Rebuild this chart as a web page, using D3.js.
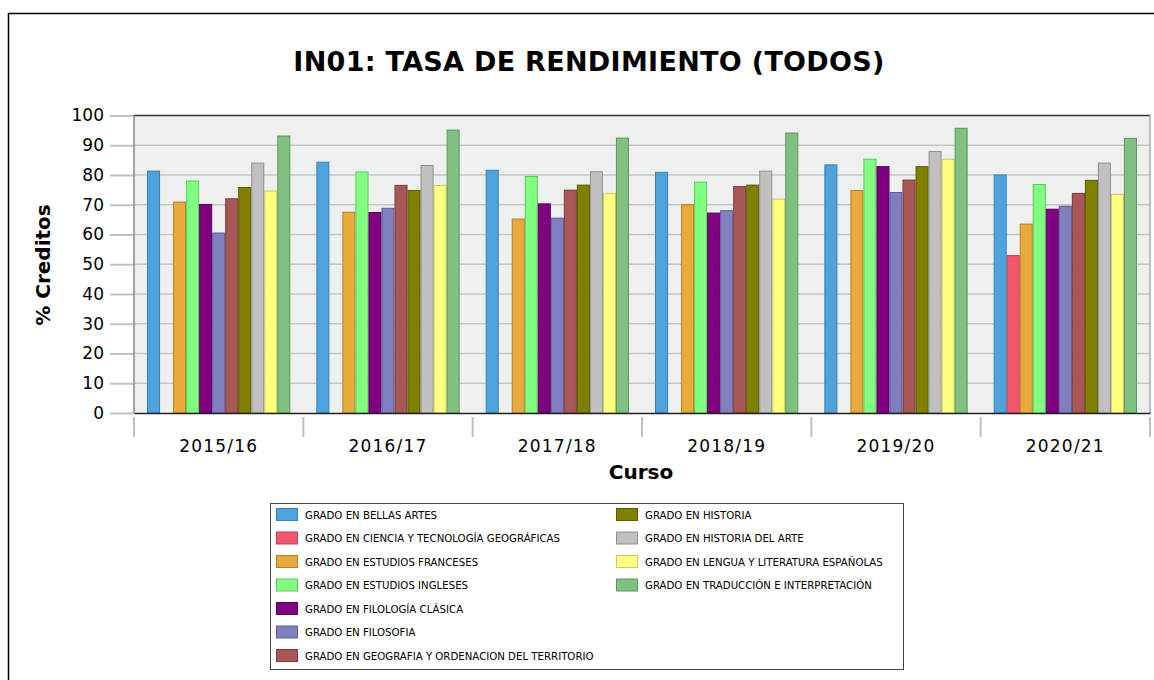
<!DOCTYPE html>
<html>
<head>
<meta charset="utf-8">
<script src="https://cdn.jsdelivr.net/npm/d3@7"></script>
<style>
  body { margin: 0; background: #fff; }
  svg text { font-family: "DejaVu Sans", sans-serif; }
</style>
</head>
<body>
<div id="chart"></div>
<script>
// Courses on the x axis
const cursos = ["2015/16", "2016/17", "2017/18", "2018/19", "2019/20", "2020/21"];

// Degree names (series)
const grados = [
  "GRADO EN BELLAS ARTES",
  "GRADO EN CIENCIA Y TECNOLOGÍA GEOGRÁFICAS",
  "GRADO EN ESTUDIOS FRANCESES",
  "GRADO EN ESTUDIOS INGLESES",
  "GRADO EN FILOLOGÍA CLÁSICA",
  "GRADO EN FILOSOFIA",
  "GRADO EN GEOGRAFIA Y ORDENACION DEL TERRITORIO",
  "GRADO EN HISTORIA",
  "GRADO EN HISTORIA DEL ARTE",
  "GRADO EN LENGUA Y LITERATURA ESPAÑOLAS",
  "GRADO EN TRADUCCIÓN E INTERPRETACIÓN"
];

const colores = ["#4fa3dc", "#f0566e", "#e8aa3c", "#80ff80", "#800080", "#8080c0",
  "#a85656", "#808000", "#c0c0c0", "#ffff80", "#80c080"];
const bordes = ["#3a80b4", "#c04056", "#b88020", "#5cc85c", "#5a005a", "#5c5c98",
  "#7e3c3c", "#5a5a00", "#909090", "#c8c860", "#5c985c"];

// Values per degree, one per course (null = no data)
const bellasArtes   = [81.3, 84.3, 81.6, 80.9, 83.4, 80.0];
const cienciaTec    = [null, null, null, null, null, 52.9];
const francesas     = [70.9, 67.5, 65.2, 70.0, 74.8, 63.5];
const ingleses      = [78.0, 81.0, 79.5, 77.6, 85.3, 76.8];
const clasica       = [70.1, 67.4, 70.3, 67.2, 82.8, 68.5];
const filosofia     = [60.5, 68.8, 65.5, 68.0, 74.1, 69.5];
const geografia     = [72.0, 76.5, 74.9, 76.1, 78.3, 73.8];
const historia      = [75.8, 74.8, 76.6, 76.6, 82.8, 78.2];
const historiaArte  = [84.0, 83.2, 81.1, 81.3, 87.9, 84.0];
const lengua        = [74.6, 76.5, 73.8, 71.9, 85.3, 73.5];
const traduccion    = [93.1, 95.1, 92.4, 94.1, 95.7, 92.3];

const series = [bellasArtes, cienciaTec, francesas, ingleses, clasica, filosofia,
  geografia, historia, historiaArte, lengua, traduccion];

const yTicks = [0, 10, 20, 30, 40, 50, 60, 70, 80, 90, 100];

const W = 1154, H = 680;
const plot = { left: 134, right: 1150, top: 115.5, bottom: 413 };

const svg = d3.select("#chart").append("svg")
  .attr("width", W).attr("height", H);

// outer frame
svg.append("rect")
  .attr("x", 8.5).attr("y", 13.5)
  .attr("width", W).attr("height", H)
  .attr("fill", "#fff").attr("stroke", "#000").attr("stroke-width", 1.5);

// title
svg.append("text")
  .attr("x", 589).attr("y", 71)
  .attr("text-anchor", "middle")
  .style("font-size", "27px").style("font-weight", "bold")
  .style("letter-spacing", "0.3px")
  .text("IN01: TASA DE RENDIMIENTO (TODOS)");

// scales
const x0 = d3.scaleBand().domain(cursos).range([plot.left, plot.right])
  .paddingInner(0).paddingOuter(0);
const x1 = d3.scaleBand().domain(d3.range(grados.length))
  .range([0, x0.bandwidth()]).paddingOuter(1).paddingInner(0);
const y = d3.scaleLinear().domain([0, 100]).range([plot.bottom, plot.top]);

// plot background
svg.append("rect")
  .attr("x", plot.left).attr("y", plot.top)
  .attr("width", plot.right - plot.left).attr("height", plot.bottom - plot.top)
  .attr("fill", "#eeefef");

// grid lines
svg.append("g").selectAll("line").data(yTicks.filter(d => d > 0 && d < 100)).join("line")
  .attr("x1", plot.left).attr("x2", plot.right)
  .attr("y1", d => y(d)).attr("y2", d => y(d))
  .attr("stroke", "#c6c6c6").attr("stroke-width", 1.6);

// y axis
const yAxis = svg.append("g")
  .attr("transform", `translate(${plot.left},0)`)
  .call(d3.axisLeft(y).tickValues(yTicks).tickSize(24).tickPadding(6));
yAxis.select(".domain").remove();
yAxis.selectAll(".tick line").attr("stroke", "#c0c0c0").attr("stroke-width", 2);
yAxis.selectAll(".tick text")
  .style("font-size", "17px").attr("fill", "#000");

// plot frame lines
svg.append("line").attr("x1", plot.left).attr("x2", plot.right)
  .attr("y1", plot.top).attr("y2", plot.top)
  .attr("stroke", "#333").attr("stroke-width", 1.5);
svg.append("line").attr("x1", plot.left).attr("x2", plot.left)
  .attr("y1", plot.top).attr("y2", plot.bottom)
  .attr("stroke", "#888").attr("stroke-width", 1.5);
svg.append("line").attr("x1", plot.right).attr("x2", plot.right)
  .attr("y1", plot.top).attr("y2", plot.bottom)
  .attr("stroke", "#aaa").attr("stroke-width", 1.5);

// bars
const groups = svg.append("g").selectAll("g").data(cursos).join("g")
  .attr("transform", d => `translate(${x0(d)},0)`);

groups.selectAll("rect")
  .data((c, ci) => series.map((s, si) => ({ si, v: s[ci] })).filter(d => d.v != null))
  .join("rect")
  .attr("x", d => x1(d.si) + 0.5)
  .attr("y", d => y(d.v))
  .attr("width", x1.bandwidth() - 1)
  .attr("height", d => y(0) - y(d.v))
  .attr("fill", d => colores[d.si])
  .attr("stroke", d => bordes[d.si])
  .attr("stroke-width", 1);

// x axis
const xAxis = svg.append("g")
  .attr("transform", `translate(0,${plot.bottom})`)
  .call(d3.axisBottom(x0).tickSize(0).tickPadding(27));
xAxis.select(".domain").attr("stroke", "#222").attr("stroke-width", 1.5);
xAxis.selectAll(".tick text").style("font-size", "17px")
  .style("letter-spacing", "1.2px").attr("fill", "#000");

// category separators
const seps = cursos.map(c => x0(c)).concat([plot.right]);
svg.append("g").selectAll("line").data(seps).join("line")
  .attr("x1", d => d).attr("x2", d => d)
  .attr("y1", plot.bottom + 4).attr("y2", plot.bottom + 24)
  .attr("stroke", "#c0c0c0").attr("stroke-width", 2);

// axis titles
svg.append("text")
  .attr("x", 641).attr("y", 479)
  .attr("text-anchor", "middle")
  .style("font-size", "20px").style("font-weight", "bold")
  .text("Curso");
svg.append("text")
  .attr("transform", "translate(50,265) rotate(-90)")
  .attr("text-anchor", "middle")
  .style("font-size", "20px").style("font-weight", "bold")
  .text("% Creditos");

// legend
const legend = svg.append("g");
legend.append("rect")
  .attr("x", 270.5).attr("y", 503.5).attr("width", 633).attr("height", 166)
  .attr("fill", "#fff").attr("stroke", "#444").attr("stroke-width", 1);

const perCol = 7;
const items = legend.selectAll("g.item").data(grados).join("g")
  .attr("class", "item")
  .attr("transform", (d, i) => {
    const col = Math.floor(i / perCol), row = i % perCol;
    return `translate(${col === 0 ? 276 : 616},${508 + row * 23.5})`;
  });
items.append("rect")
  .attr("x", 0.5).attr("y", 0.5).attr("width", 21).attr("height", 12)
  .attr("fill", (d, i) => colores[i]).attr("stroke", (d, i) => bordes[i]);
items.append("text")
  .attr("x", 29).attr("y", 10.5)
  .style("font-size", "10.2px")
  .text(d => d);
</script>
</body>
</html>
